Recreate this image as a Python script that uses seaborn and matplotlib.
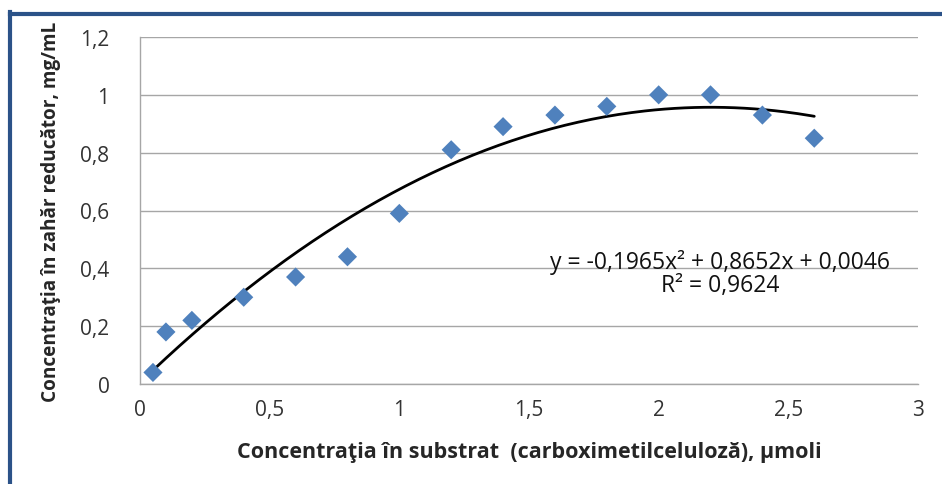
import numpy as np
import pandas as pd
import matplotlib
matplotlib.use("Agg")
import matplotlib.pyplot as plt
import seaborn as sns
from matplotlib.lines import Line2D

# Data
substrate = [0.05, 0.1, 0.2, 0.4, 0.6, 0.8, 1.0, 1.2, 1.4, 1.6, 1.8, 2.0, 2.2, 2.4, 2.6]
sugar = [0.04, 0.18, 0.22, 0.30, 0.37, 0.44, 0.59, 0.81, 0.89, 0.93, 0.96, 1.00, 1.00, 0.93, 0.85]
trend_coef = [-0.1965, 0.8652, 0.0046]
x_ticks = [0, 0.5, 1, 1.5, 2, 2.5, 3]
x_tick_labels = ["0", "0,5", "1", "1,5", "2", "2,5", "3"]
y_ticks = [0, 0.2, 0.4, 0.6, 0.8, 1.0, 1.2]
y_tick_labels = ["0", "0,2", "0,4", "0,6", "0,8", "1", "1,2"]
eq_line1 = "y = -0,1965x² + 0,8652x + 0,0046"
eq_line2 = "R² = 0,9624"
x_label = "Concentraţia în substrat  (carboximetilceluloză), µmoli"
y_label = "Concentraţia în zahăr reducător, mg/mL"

sns.set_style("white")
plt.rcParams['font.family'] = ['Open Sans', 'DejaVu Sans']

df = pd.DataFrame({"x": substrate, "y": sugar})
xs = np.linspace(min(substrate), max(substrate), 200)
trend_df = pd.DataFrame({"x": xs, "y": np.polyval(trend_coef, xs)})

fig = plt.figure(figsize=(9.42, 4.85), dpi=100)
ax = fig.add_axes([140/942, 1-385/485, (918-140)/942, (385-38)/485])

sns.lineplot(data=trend_df, x="x", y="y", ax=ax, color="black", linewidth=2.0, zorder=2)
sns.scatterplot(data=df, x="x", y="y", ax=ax, marker="D", s=95, color="#4F81BD",
                edgecolor="none", zorder=3, clip_on=False)

ax.set_xlim(0, 3)
ax.set_ylim(0, 1.2)
ax.set_xticks(x_ticks)
ax.set_xticklabels(x_tick_labels)
ax.set_yticks(y_ticks)
ax.set_yticklabels(y_tick_labels)
ax.tick_params(axis="x", labelsize=15, pad=11, length=0, colors="#333333")
ax.tick_params(axis="y", labelsize=15, pad=22, length=0, colors="#333333")
ax.grid(axis="y", color="#A6A6A6", linewidth=1.0)
ax.set_axisbelow(True)
for s in ["top", "right"]:
    ax.spines[s].set_visible(False)
for s in ["left", "bottom"]:
    ax.spines[s].set_color("#A6A6A6")
    ax.spines[s].set_linewidth(1.0)

ax.set_xlabel(x_label, fontsize=15.5, fontweight="bold", labelpad=15)
ax.set_ylabel(y_label, fontsize=13.7, fontweight="bold", labelpad=14)

ax.text(2.237, 0.422, eq_line1, fontsize=16.5, ha="center", va="center", color="#111111")
ax.text(2.237, 0.342, eq_line2, fontsize=16.5, ha="center", va="center", color="#111111")

# figure frame (top and left blue border)
fig.add_artist(Line2D([9.5/942, 9.5/942], [0, 1-13/485], transform=fig.transFigure,
                      color="#2B5288", linewidth=3, solid_capstyle="projecting"))
fig.add_artist(Line2D([9.5/942, 1], [1-14.5/485, 1-14.5/485], transform=fig.transFigure,
                      color="#2B5288", linewidth=3, solid_capstyle="projecting"))

fig.savefig("out.png", dpi=100)
